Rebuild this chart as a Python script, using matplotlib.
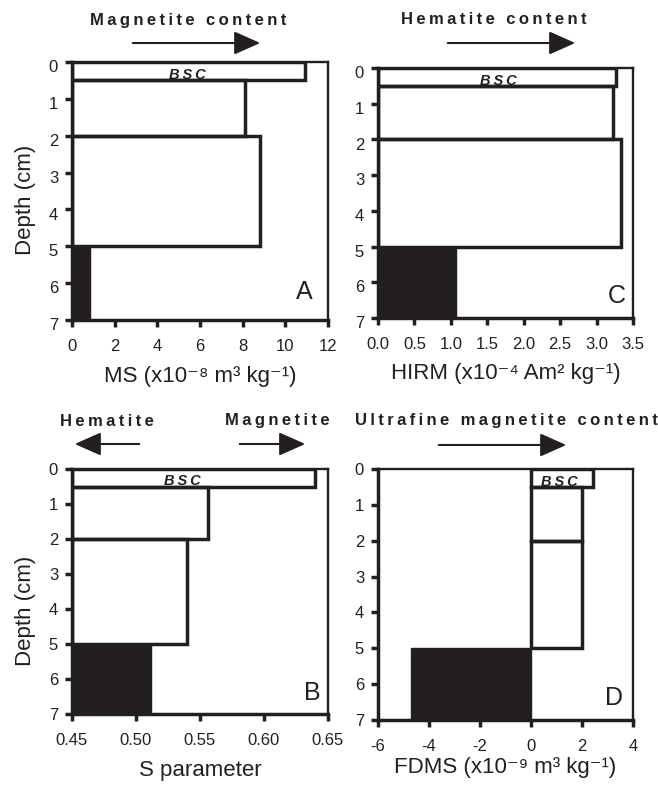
import matplotlib
matplotlib.use("Agg")
import matplotlib.pyplot as plt
import matplotlib.transforms as mtransforms
from matplotlib.patches import FancyArrowPatch

plt.rcParams["font.family"] = ["Liberation Sans", "DejaVu Sans"]

INK = "#231f20"

# depth intervals (cm)
depth_top = [0.0, 0.5, 2.0, 5.0]
depth_bottom = [0.5, 2.0, 5.0, 7.0]

# values per interval (last interval = filled bar)
ms = [10.9, 8.1, 8.8, 0.85]
hirm = [3.26, 3.23, 3.33, 1.07]
s_param = [0.640, 0.556, 0.540, 0.512]
fdms = [2.45, 2.0, 2.0, -4.7]

W, H = 658, 786


def spaced(s, gap="\u2009"):
    return gap.join(s)


def draw_panel(ax, values, left, xlim, xticks, fmt, letter, letter_xy,
               bsc_x, xlabel, ylabel=None, ylabel_y=0.5, ytick_shift=0):
    centers = [(a + b) / 2 for a, b in zip(depth_top, depth_bottom)]
    heights = [b - a for a, b in zip(depth_top, depth_bottom)]
    widths = [v - left for v in values]
    ax.barh(centers[:3], widths[:3], height=heights[:3], left=left,
            facecolor="none", edgecolor=INK, linewidth=2.5, zorder=3)
    ax.barh(centers[3:], widths[3:], height=heights[3:], left=left,
            facecolor=INK, edgecolor=INK, linewidth=1.0, zorder=3)

    ax.set_xlim(*xlim)
    ax.set_ylim(7, 0)
    ax.set_xticks(xticks)
    ax.set_xticklabels([fmt.format(t) for t in xticks])
    ax.set_yticks(range(8))

    for side in ("left", "bottom"):
        ax.spines[side].set_linewidth(2.5)
    for side in ("top", "right"):
        ax.spines[side].set_linewidth(1.7)
    for sp in ax.spines.values():
        sp.set_color(INK)
    ax.tick_params(axis="both", direction="out", length=5, width=2.5,
                   color=INK, labelcolor=INK, labelsize=12)
    ax.tick_params(axis="x", pad=9)
    ax.tick_params(axis="y", pad=5)
    if ytick_shift:
        off = mtransforms.ScaledTranslation(0, -ytick_shift / 72,
                                            ax.figure.dpi_scale_trans)
        for lab in ax.get_yticklabels():
            lab.set_transform(lab.get_transform() + off)

    ax.text(bsc_x, 0.47, spaced("BSC"), fontsize=10.5,
            fontweight="bold", fontstyle="italic", color=INK,
            ha="center", va="baseline", zorder=2)
    ax.text(letter_xy[0], letter_xy[1], letter, transform=ax.transAxes,
            fontsize=18, color=INK, ha="right", va="center")

    ax.set_xlabel(xlabel, fontsize=16, color=INK)
    ax.xaxis.label.set_va("center")
    if ylabel:
        ax.set_ylabel(ylabel, fontsize=16, color=INK)
        ax.yaxis.label.set_va("center")
        ax.yaxis.set_label_coords(-0.18, ylabel_y)


def px_axes(fig, l, t, r, b):
    return fig.add_axes([l / W, 1 - b / H, (r - l) / W, (b - t) / H])


def heading(fig, x, y, s):
    fig.text(x / W, 1 - y / H, spaced(s), fontsize=12, fontweight="bold",
             color=INK, ha="center", va="center")


def arrow(fig, x0, x1, y):
    a = FancyArrowPatch((x0 / W, 1 - y / H), (x1 / W, 1 - y / H),
                        transform=fig.transFigure,
                        arrowstyle="-|>,head_length=1.35,head_width=0.6",
                        mutation_scale=12, color=INK, linewidth=1.5)
    fig.patches.append(a)


fig = plt.figure(figsize=(W / 100, H / 100), dpi=100)

ax_a = px_axes(fig, 72, 62, 328, 320)
draw_panel(ax_a, ms, 0, (0, 12), [0, 2, 4, 6, 8, 10, 12], "{:g}", "A",
           (0.94, 0.11), 5.4, "MS (x10\u207b\u2078 m\u00b3 kg\u207b\u00b9)",
           "Depth (cm)", 0.465, ytick_shift=3)
ax_a.xaxis.set_label_coords(0.5, -0.22)

ax_c = px_axes(fig, 378, 68, 633, 318)
draw_panel(ax_c, hirm, 0, (0, 3.5), [0, 0.5, 1, 1.5, 2, 2.5, 3, 3.5],
           "{:.1f}", "C", (0.97, 0.088), 1.65,
           "HIRM (x10\u207b\u2074 Am\u00b2 kg\u207b\u00b9)", ytick_shift=3)
ax_c.xaxis.set_label_coords(0.5, -0.22)

ax_b = px_axes(fig, 72, 469, 328, 714)
draw_panel(ax_b, s_param, 0.45, (0.45, 0.65),
           [0.45, 0.50, 0.55, 0.60, 0.65], "{:.2f}", "B", (0.97, 0.086),
           0.536, "S parameter", "Depth (cm)", 0.42)
ax_b.xaxis.set_label_coords(0.5, -0.23)

ax_d = px_axes(fig, 378, 469, 633, 720)
draw_panel(ax_d, fdms, 0, (-6, 4), [-6, -4, -2, 0, 2, 4], "{:g}", "D",
           (0.96, 0.088), 1.1, "FDMS (x10\u207b\u2079 m\u00b3 kg\u207b\u00b9)")
ax_d.xaxis.set_label_coords(0.5, -0.19)

heading(fig, 188, 20, "Magnetite content")
arrow(fig, 130, 263, 43)
heading(fig, 494, 19, "Hematite content")
arrow(fig, 445, 578, 43)
heading(fig, 107, 421, "Hematite")
arrow(fig, 142, 72, 444)
heading(fig, 277, 421, "Magnetite")
arrow(fig, 237, 308, 444)
heading(fig, 506, 421, "Ultrafine magnetite content")
arrow(fig, 436, 569, 445)

fig.savefig("out.png", dpi=100, facecolor="white")
